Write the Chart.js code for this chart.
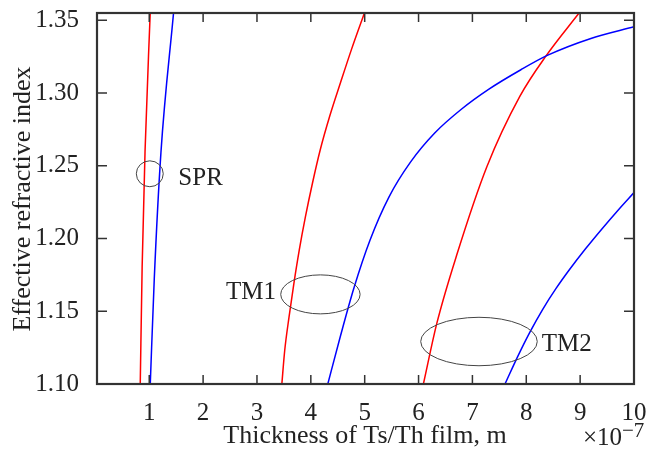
<!DOCTYPE html>
<html>
<head>
<meta charset="utf-8">
<script src="https://cdn.jsdelivr.net/npm/chart.js@4.4.0/dist/chart.umd.min.js"></script>
<style>
  html, body { margin: 0; padding: 0; background: #fff; }
</style>
</head>
<body>
<canvas id="myChart" width="647" height="452"></canvas>
<script>
// axis ticks
var xTicks = [1, 2, 3, 4, 5, 6, 7, 8, 9, 10];
var yTicks = [1.10, 1.15, 1.20, 1.25, 1.30, 1.35];

// curves, [thickness x1e-7 m, effective index]
var sprRed = [[0.833, 1.100], [0.868, 1.180], [0.922, 1.260], [1.018, 1.355]];
var sprBlue = [[1.019, 1.100], [1.093, 1.172], [1.217, 1.259], [1.451, 1.355]];
var tm1Red = [[3.462, 1.100], [3.515, 1.123], [3.595, 1.146], [3.685, 1.169], [3.785, 1.192], [3.900, 1.215], [4.030, 1.238], [4.175, 1.261], [4.350, 1.284], [4.550, 1.307], [4.755, 1.330], [4.995, 1.355]];
var tm1Blue = [[4.315, 1.100], [4.55, 1.133], [4.80, 1.166], [5.10, 1.199], [5.45, 1.2285], [5.85, 1.2525], [6.30, 1.2725], [6.80, 1.289], [7.30, 1.3025], [7.90, 1.316], [8.40, 1.326], [9.20, 1.3375], [10.0, 1.3455]];
var tm2Red = [[6.09, 1.100], [6.34, 1.1418], [6.71, 1.1888], [7.27, 1.2495], [7.88, 1.2977], [8.37, 1.3257], [8.98, 1.355]];
var tm2Blue = [[7.605, 1.100], [7.84, 1.1188], [8.07, 1.1358], [8.30, 1.151], [8.55, 1.1655], [8.80, 1.1785], [9.10, 1.1929], [9.40, 1.2064], [9.70, 1.2193], [10.0, 1.2316]];

// ellipses marking the modes, with their labels
var marks = [
  { name: "SPR", x: 1.01, y: 1.2445, rx: 0.25, ry: 0.0089, tx: 1.54, ty: 1.2417, align: "left" },
  { name: "TM1", x: 4.178, y: 1.1616, rx: 0.737, ry: 0.0134, tx: 3.355, ty: 1.1635, align: "right" },
  { name: "TM2", x: 7.122, y: 1.1292, rx: 1.082, ry: 0.01665, tx: 8.286, ty: 1.1282, align: "left" }
];

var serif = "'Liberation Serif', 'DejaVu Serif', serif";

function toPoints(arr) {
  return arr.map(function (p) { return { x: p[0], y: p[1] }; });
}

function curve(arr, color) {
  return {
    data: toPoints(arr),
    borderColor: color,
    borderWidth: 1.5,
    pointRadius: 0,
    cubicInterpolationMode: "monotone",
    fill: false
  };
}

//Cadre, graduations internes, ellipses et textes
var overlay = {
  id: "overlay",
  afterDatasetsDraw: function (chart) {
    var ctx = chart.ctx;
    var a = chart.chartArea;
    var x = chart.scales.x;
    var y = chart.scales.y;
    ctx.save();

    ctx.strokeStyle = "#333";
    ctx.lineWidth = 1.5;
    ctx.beginPath();
    x.ticks.forEach(function (t) {
      var px = x.getPixelForValue(t.value);
      ctx.moveTo(px, a.bottom); ctx.lineTo(px, a.bottom - 9);
      ctx.moveTo(px, a.top); ctx.lineTo(px, a.top + 9);
    });
    y.ticks.forEach(function (t) {
      var py = y.getPixelForValue(t.value);
      ctx.moveTo(a.left, py); ctx.lineTo(a.left + 10, py);
      ctx.moveTo(a.right, py); ctx.lineTo(a.right - 10, py);
    });
    ctx.stroke();

    ctx.lineWidth = 2.2;
    ctx.strokeRect(a.left, a.top, a.right - a.left, a.bottom - a.top);

    ctx.strokeStyle = "#444";
    ctx.lineWidth = 1;
    ctx.fillStyle = "#222";
    ctx.font = "25px " + serif;
    ctx.textBaseline = "middle";
    marks.forEach(function (m) {
      var cx = x.getPixelForValue(m.x);
      var cy = y.getPixelForValue(m.y);
      var rx = Math.abs(x.getPixelForValue(m.x + m.rx) - cx);
      var ry = Math.abs(y.getPixelForValue(m.y + m.ry) - cy);
      ctx.beginPath();
      ctx.ellipse(cx, cy, rx, ry, 0, 0, Math.PI * 2);
      ctx.stroke();
      ctx.textAlign = m.align;
      ctx.fillText(m.name, x.getPixelForValue(m.tx), y.getPixelForValue(m.ty) + 1);
    });

    // titres des axes
    ctx.font = "26px " + serif;
    ctx.textBaseline = "alphabetic";
    ctx.textAlign = "center";
    ctx.fillText("Thickness of Ts/Th film, m", 365, 443);
    ctx.font = "25px " + serif;
    ctx.textAlign = "left";
    ctx.fillText("\u00d710", 583, 445);
    ctx.font = "21px " + serif;
    ctx.fillText("\u22127", 622, 437);

    ctx.font = "26px " + serif;
    ctx.translate(30, 199);
    ctx.rotate(-Math.PI / 2);
    ctx.textAlign = "center";
    ctx.fillText("Effective refractive index", 0, 0);
    ctx.restore();
  }
};

var tickFont = { family: serif, size: 25, lineHeight: 1 };

new Chart(document.getElementById("myChart").getContext("2d"), {
  type: "line",
  data: {
    datasets: [
      curve(sprRed, "#ff0000"),
      curve(sprBlue, "#0000ff"),
      curve(tm1Red, "#ff0000"),
      curve(tm1Blue, "#0000ff"),
      curve(tm2Red, "#ff0000"),
      curve(tm2Blue, "#0000ff")
    ]
  },
  options: {
    responsive: false,
    animation: false,
    events: [],
    layout: { padding: { left: 0, right: 13, top: 13, bottom: 0 } },
    plugins: { legend: { display: false }, tooltip: { enabled: false } },
    scales: {
      x: {
        type: "linear",
        min: 0.03,
        max: 10,
        afterBuildTicks: function (s) { s.ticks = xTicks.map(function (v) { return { value: v }; }); },
        afterFit: function (s) { s.height = 68; s.paddingLeft = 0; s.paddingRight = 0; },
        grid: { display: false },
        border: { display: false },
        ticks: { font: tickFont, color: "#222", padding: 9, maxRotation: 0, autoSkip: false, callback: function (v) { return v; } }
      },
      y: {
        type: "linear",
        min: 1.10,
        max: 1.355,
        afterBuildTicks: function (s) { s.ticks = yTicks.map(function (v) { return { value: v }; }); },
        afterFit: function (s) { s.width = 97; s.paddingTop = 0; s.paddingBottom = 0; },
        grid: { display: false },
        border: { display: false },
        ticks: { font: tickFont, color: "#222", padding: 10, autoSkip: false, callback: function (v) { return v.toFixed(2); } }
      }
    }
  },
  plugins: [overlay]
});
</script>
</body>
</html>
